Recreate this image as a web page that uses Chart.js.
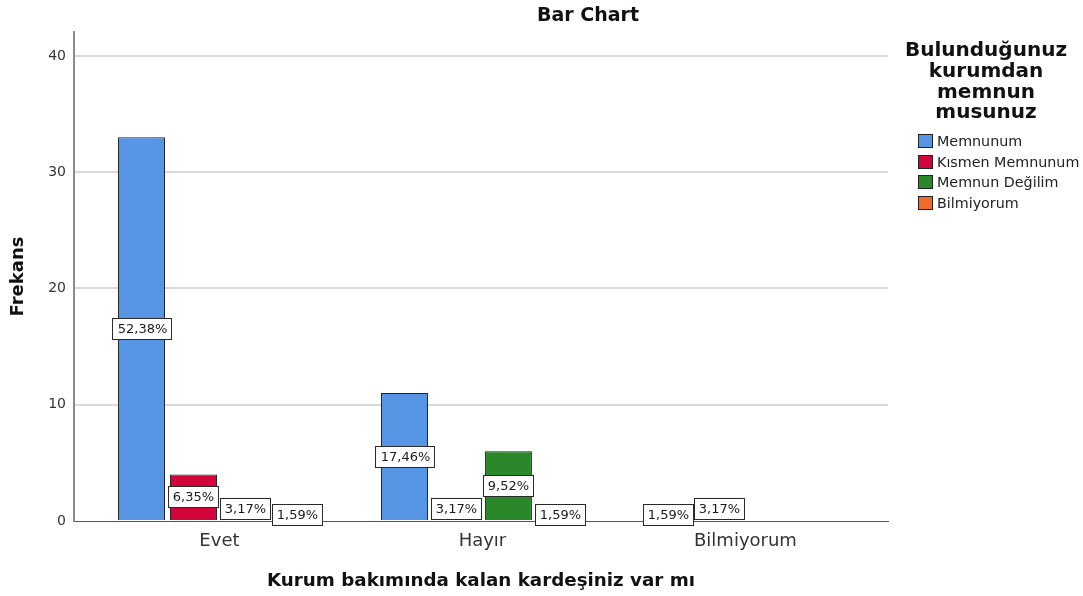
<!DOCTYPE html>
<html>
<head>
<meta charset="utf-8">
<script src="https://cdn.jsdelivr.net/npm/chart.js@4/dist/chart.umd.min.js"></script>
<style>
  html, body { margin: 0; padding: 0; background: #fff; }
</style>
</head>
<body>
<canvas id="barChartCanvas" width="1083" height="596"></canvas>
<script>
"use strict";

const categories = ['Evet', 'Hayır', 'Bilmiyorum'];
const seriesNames = ['Memnunum', 'Kısmen Memnunum', 'Memnun Değilim', 'Bilmiyorum'];
const memnunum = [33, 11, 1];
const kismenMemnunum = [4, 2, 2];
const memnunDegilim = [2, 6, 0];
const bilmiyorum = [1, 1, 0];
const yTicks = [0, 10, 20, 30, 40];
const legendTitle = ['Bulunduğunuz', 'kurumdan', 'memnun', 'musunuz'];

const seriesValues = [memnunum, kismenMemnunum, memnunDegilim, bilmiyorum];
const seriesColors = ['#5694e4', '#d2043a', '#2a872a', '#f06a2a'];
const total = seriesValues.flat().reduce((a, b) => a + b, 0);

const FONT = '"DejaVu Sans", "Liberation Sans", sans-serif';

// white boxed percentages in the middle of each bar
const percentLabels = {
    id: 'percentLabels',
    afterDatasetsDraw(chart) {
        const ctx = chart.ctx;
        ctx.save();
        ctx.font = '13px ' + FONT;
        ctx.textAlign = 'center';
        ctx.textBaseline = 'middle';
        chart.data.datasets.forEach((ds, i) => {
            chart.getDatasetMeta(i).data.forEach((bar, j) => {
                const v = ds.data[j].y;
                if (!v) return;
                const txt = (v / total * 100).toFixed(2).replace('.', ',') + '%';
                const w = Math.round(ctx.measureText(txt).width + 9);
                const h = 21;
                const cx = Math.round(bar.x);
                const cy = Math.round((bar.y + bar.base) / 2);
                const left = cx - Math.round(w / 2);
                const top = cy - Math.round(h / 2);
                ctx.fillStyle = '#ffffff';
                ctx.fillRect(left, top, w, h);
                ctx.strokeStyle = '#2a2a2a';
                ctx.lineWidth = 1;
                ctx.strokeRect(left + 0.5, top + 0.5, w, h);
                ctx.fillStyle = '#1a1a1a';
                ctx.fillText(txt, cx + 0.5, cy + 1);
            });
        });
        ctx.restore();
    }
};

// chart title and the legend block on the right
const titleAndLegend = {
    id: 'titleAndLegend',
    afterDraw(chart) {
        const ctx = chart.ctx;
        ctx.save();
        ctx.fillStyle = '#111';
        ctx.textAlign = 'center';
        ctx.textBaseline = 'middle';
        ctx.font = 'bold 19px ' + FONT;
        ctx.fillText('Bar Chart', 588, 16);

        ctx.font = 'bold 20px ' + FONT;
        legendTitle.forEach((line, k) => {
            ctx.fillText(line, 986, 51 + k * 20.7);
        });

        ctx.textAlign = 'left';
        ctx.font = '14.3px ' + FONT;
        chart.data.datasets.forEach((ds, k) => {
            const y = Math.round(141 + k * 20.6);
            ctx.fillStyle = ds.backgroundColor;
            ctx.fillRect(918, y - 7, 15, 14);
            ctx.strokeStyle = '#222';
            ctx.lineWidth = 1;
            ctx.strokeRect(918.5, y - 6.5, 14, 13);
            ctx.fillStyle = '#222';
            ctx.fillText(ds.label, 937, y + 1);
        });
        ctx.restore();
    }
};

const ctx = document.getElementById('barChartCanvas');

// eslint-disable-next-line no-undef
new Chart(ctx, {
    type: 'bar',
    data: {
        datasets: seriesNames.map((name, i) => ({
            label: name,
            data: seriesValues[i].map((v, j) => ({ x: j, y: v > 0 ? v : null })),
            backgroundColor: seriesColors[i],
            borderColor: '#222',
            borderWidth: 1,
            categoryPercentage: 0.79,
            barPercentage: 0.905
        }))
    },
    options: {
        responsive: false,
        animation: false,
        layout: {
            padding: { left: 0, right: 195, top: 32, bottom: 0 }
        },
        plugins: {
            legend: { display: false },
            title: { display: false },
            tooltip: { enabled: false }
        },
        scales: {
            x: {
                type: 'linear',
                offset: false,
                min: -0.553,
                max: 2.542,
                afterBuildTicks: function(scale) {
                    scale.ticks = categories.map((c, i) => ({ value: i }));
                },
                afterFit: function(scale) {
                    scale.height = 75;
                },
                grid: { display: false, drawTicks: false, offset: false },
                border: { display: true, color: '#555', width: 1 },
                ticks: {
                    autoSkip: false,
                    maxRotation: 0,
                    padding: 10,
                    color: '#333',
                    font: { family: FONT, size: 18 },
                    callback: function(value) {
                        return categories[value];
                    }
                },
                title: {
                    display: true,
                    text: 'Kurum bakımında kalan kardeşiniz var mı',
                    color: '#111',
                    font: { family: FONT, size: 18.3, weight: 'bold' },
                    padding: { top: 0, bottom: 4 }
                }
            },
            y: {
                min: 0,
                max: 42.06,
                afterBuildTicks: function(scale) {
                    scale.ticks = yTicks.map(v => ({ value: v }));
                },
                afterFit: function(scale) {
                    scale.width = 74;
                },
                grid: {
                    drawTicks: false,
                    lineWidth: 2,
                    color: function(context) {
                        return context.tick && context.tick.value === 0 ? 'rgba(0,0,0,0)' : '#d9d9d9';
                    }
                },
                border: { display: true, color: '#8c8c8c', width: 2 },
                ticks: {
                    padding: 8,
                    color: '#333',
                    font: { family: FONT, size: 14 }
                },
                title: {
                    display: true,
                    text: 'Frekans',
                    color: '#111',
                    font: { family: FONT, size: 18, weight: 'bold' },
                    padding: { top: 8, bottom: 0 }
                }
            }
        }
    },
    plugins: [percentLabels, titleAndLegend]
});
</script>
</body>
</html>
